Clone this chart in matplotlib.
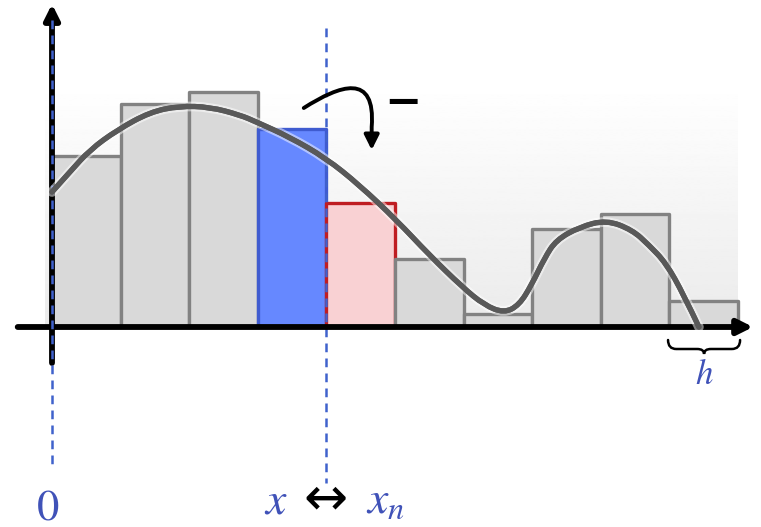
#!/usr/bin/env python3

import numpy as np
import matplotlib
matplotlib.use("Agg")
import matplotlib.pyplot as plot
import matplotlib.patheffects as effects
from matplotlib.path import Path
from matplotlib.patches import FancyArrowPatch, PathPatch

# data #########################################################################

# bins of width h, heights in arbitrary units
binLeft = [0, 1, 2, 3, 4, 5, 6, 7, 8, 9]
binHeight = [1.71, 2.23, 2.35, 1.98, 1.24, 0.68, 0.13, 0.98, 1.13, 0.26]
binKind = ["gray", "gray", "gray", "blue", "red",
           "gray", "gray", "gray", "gray", "gray"]

# density curve
curveX = [0.00, 0.26, 0.55, 0.95, 1.43, 1.86, 2.30, 2.74, 2.98, 3.46, 3.99,
          4.48, 5.02, 5.50, 5.98, 6.30, 6.59, 6.81, 6.99, 7.18, 7.35, 7.69,
          8.08, 8.46, 8.70, 8.95, 9.21, 9.43]
curveY = [1.35, 1.55, 1.77, 1.97, 2.15, 2.21, 2.20, 2.12, 2.05, 1.90, 1.69,
          1.42, 1.07, 0.72, 0.40, 0.22, 0.14, 0.22, 0.42, 0.69, 0.87, 1.00,
          1.07, 0.97, 0.82, 0.64, 0.32, 0.00]

xMarks = [0.0, 3.99]
xLabels = ["0", "x", "x_n"]

################################################################################

styles = {
  "gray": {"face": "#d9d9d9", "edge": "#828282"},
  "blue": {"face": "#6688ff", "edge": "#3f5bd0"},
  "red":  {"face": "#f9d1d3", "edge": "#bf1d22"},
}
textBlue = "#4052b8"
dashBlue = "#4062cc"

# smoothPath ###################################################################

def smoothPath(xs, ys):
  # quadratic pieces through the midpoints of the read points
  points = list(zip(xs, ys))
  vertices = [points[0]]
  codes = [Path.MOVETO]
  for i in range(1, len(points) - 1):
    mid = ((points[i][0] + points[i + 1][0]) / 2,
           (points[i][1] + points[i + 1][1]) / 2)
    if i == len(points) - 2:
      mid = points[-1]
    vertices += [points[i], mid]
    codes += [Path.CURVE3, Path.CURVE3]
  return Path(vertices, codes)

# plotHistogram ################################################################

def plotHistogram(figureFilename):
  plot.rcParams["mathtext.fontset"] = "stix"
  figure = plot.figure(figsize = (7.61, 5.27), dpi = 100)
  ax = figure.add_axes([0, 0, 1, 1])
  ax.set_xlim(-0.758, 10.335)
  ax.set_ylim(-2.0, 3.27)
  ax.axis("off")

  # soft gray background behind the bins
  gradient = np.linspace(0.92, 1.0, 200).reshape(-1, 1)
  ax.imshow(gradient, cmap = "gray", vmin = 0, vmax = 1, origin = "lower",
            extent = [-0.1, 10.0, 0, 2.45], aspect = "auto", zorder = 0)

  for left, height, kind in zip(binLeft, binHeight, binKind):
    ax.bar(left, height, width = 1, align = "edge",
           color = styles[kind]["face"], edgecolor = styles[kind]["edge"],
           linewidth = 2.4, joinstyle = "round", zorder = 2)

  # axes arrows
  arrowStyle = "-|>,head_length=0.9,head_width=0.45"
  xAxis = ax.annotate("", xy = (10.22, 0), xytext = (-0.5, 0),
                      arrowprops = dict(arrowstyle = arrowStyle,
                                        color = "black", linewidth = 4.2,
                                        shrinkA = 0, shrinkB = 0))
  xAxis.set_zorder(4)
  yAxis = ax.annotate("", xy = (0, 3.23), xytext = (0, -0.36),
                      arrowprops = dict(arrowstyle = arrowStyle,
                                        color = "black", linewidth = 4.2,
                                        shrinkA = 0, shrinkB = 0))
  yAxis.set_zorder(4)

  # dashed guides
  ax.plot([xMarks[0], xMarks[0]], [3.07, -1.40], color = dashBlue,
          linewidth = 1.8, dashes = (3.5, 2.5), zorder = 5)
  ax.plot([xMarks[1], xMarks[1]], [2.99, -1.56], color = dashBlue,
          linewidth = 1.8, dashes = (3.5, 2.5), zorder = 3)

  ax.add_patch(PathPatch(smoothPath(curveX, curveY), facecolor = "none",
                         edgecolor = "#595959", linewidth = 3.8,
                         joinstyle = "round", capstyle = "round", zorder = 6,
                         path_effects = [effects.withStroke(linewidth = 7,
                                                            foreground = "white",
                                                            alpha = 0.5),
                                         effects.Normal()]))

  # curved arrow and minus sign
  arrowPath = Path([(3.67, 2.19), (4.20, 2.42), (4.72, 2.55), (4.66, 2.00),
                    (4.66, 1.77)],
                   [Path.MOVETO, Path.CURVE4, Path.CURVE4, Path.CURVE4,
                    Path.LINETO])
  ax.add_patch(FancyArrowPatch(path = arrowPath, arrowstyle = "-|>",
                               mutation_scale = 22, color = "black",
                               linewidth = 2.8, zorder = 7))
  ax.text(5.12, 2.24, "\u2212", fontsize = 32, fontweight = "bold",
          ha = "center", va = "center", color = "black")

  # brace under the last bin
  x0, x1 = 8.98, 10.03
  xm = (x0 + x1) / 2
  top, mid, tip = -0.13, -0.22, -0.27
  bracePath = Path([(x0, top), (x0, mid), (x0 + 0.12, mid),
                    (xm - 0.10, mid), (xm, mid), (xm, tip),
                    (xm, mid), (xm + 0.10, mid),
                    (x1 - 0.12, mid), (x1, mid), (x1, top)],
                   [Path.MOVETO, Path.CURVE3, Path.CURVE3,
                    Path.LINETO, Path.CURVE3, Path.CURVE3,
                    Path.CURVE3, Path.CURVE3,
                    Path.LINETO, Path.CURVE3, Path.CURVE3])
  ax.add_patch(PathPatch(bracePath, facecolor = "none", edgecolor = "black",
                         linewidth = 1.8, capstyle = "round", zorder = 4))

  # labels
  ax.text(xm + 0.0, -0.57, r"$h$", fontsize = 25, color = textBlue,
          ha = "center", va = "baseline")
  ax.text(xMarks[0] - 0.06, -1.92, r"$" + xLabels[0] + "$", fontsize = 32,
          color = textBlue, ha = "center", va = "baseline")
  ax.text(xMarks[1] - 0.73, -1.86, r"$" + xLabels[1] + "$", fontsize = 33,
          color = textBlue, ha = "center", va = "baseline")
  ax.text(xMarks[1], -1.72, "\u2194", fontsize = 38, family = "DejaVu Sans",
          color = "black", ha = "center", va = "center")
  ax.text(xMarks[1] + 0.87, -1.86, r"$" + xLabels[2] + "$", fontsize = 33,
          color = textBlue, ha = "center", va = "baseline")

  plot.savefig(figureFilename, dpi = 100)
  plot.close()

################################################################################

if __name__ == "__main__":
  plotHistogram("out.png")
